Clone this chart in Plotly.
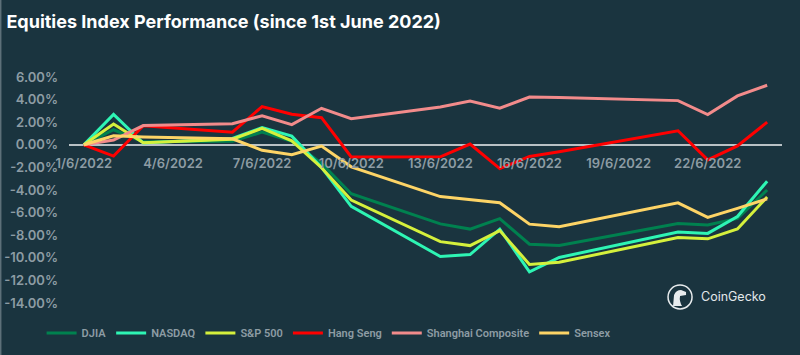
import plotly.graph_objects as go

dates = ["2022-06-01", "2022-06-02", "2022-06-03", "2022-06-06", "2022-06-07",
         "2022-06-08", "2022-06-09", "2022-06-10", "2022-06-13", "2022-06-14",
         "2022-06-15", "2022-06-16", "2022-06-17", "2022-06-21", "2022-06-22",
         "2022-06-23", "2022-06-24"]

djia = [0, 1.33, 0.26, 0.31, 1.12, 0.30, -1.65, -4.33, -7.00, -7.46, -6.53,
        -8.80, -8.91, -6.96, -7.10, -6.51, -4.00]
nasdaq = [0, 2.69, 0.16, 0.56, 1.52, 0.77, -2.00, -5.45, -9.88, -9.71, -7.46,
          -11.24, -9.97, -7.71, -7.84, -6.35, -3.22]
sp500 = [0, 1.84, 0.18, 0.49, 1.45, 0.35, -2.03, -4.89, -8.57, -8.92, -7.59,
         -10.59, -10.40, -8.20, -8.32, -7.45, -4.62]
hang_seng = [0, -1.00, 1.69, 1.11, 3.38, 2.70, 2.40, -1.07, -1.06, 0.07, -2.11,
             -1.03, -0.62, 1.24, -1.34, -0.10, 2.00]
shanghai = [0, 0.42, 1.70, 1.87, 2.57, 1.79, 3.23, 2.31, 3.35, 3.87, 3.24,
            4.23, 4.19, 3.91, 2.67, 4.33, 5.27]
sensex = [0, 0.79, 0.70, 0.53, -0.49, -0.88, -0.11, -1.95, -4.58, -4.85, -5.13,
          -7.02, -7.26, -5.14, -6.43, -5.63, -4.79]

series = [
    ("DJIA", djia, "#00814f"),
    ("NASDAQ", nasdaq, "#2ef5b4"),
    ("S&P 500", sp500, "#d5f03c"),
    ("Hang Seng", hang_seng, "#ff0000"),
    ("Shanghai Composite", shanghai, "#f28b8b"),
    ("Sensex", sensex, "#fdd466"),
]

ytick_vals = [6, 4, 2, 0, -2, -4, -6, -8, -10, -12, -14]
ytick_text = ["%.2f%%" % v for v in ytick_vals]

bg = "#1a343f"
label_col = "#8d9ca4"

fig = go.Figure()
for name, vals, col in series:
    fig.add_trace(go.Scatter(x=dates, y=vals, name=name, mode="lines",
                             line=dict(color=col, width=3)))

fig.update_layout(
    width=800, height=355,
    paper_bgcolor=bg, plot_bgcolor=bg,
    margin=dict(l=69, r=18, t=77, b=52, autoexpand=False),
    title=dict(text="<b>Equities Index Performance (since 1st June 2022)</b>",
               x=0.008, xanchor="left", y=0.938, yanchor="middle",
               font=dict(family="Inter", size=18, color="#ffffff")),
    showlegend=True,
    legend=dict(orientation="h", xref="container", x=0.052, xanchor="left",
                yref="container", y=0.062, yanchor="middle",
                font=dict(family="Roboto", size=11, color=label_col,
                          weight=600),
                bgcolor="rgba(0,0,0,0)", itemwidth=30, tracegroupgap=0),
    xaxis=dict(type="date", range=["2022-05-31 12:00", "2022-06-24 12:00"],
               tick0="2022-06-01", dtick=3 * 86400000, tickformat="%-d/%-m/%Y",
               showgrid=False, zeroline=False, showline=False, automargin=False,
               anchor="free", position=0.7, ticks="", ticklabelstandoff=9,
               tickfont=dict(family="Inter", size=13, color=label_col, weight=600)),
    yaxis=dict(range=[-14, 6], tickvals=ytick_vals, ticktext=ytick_text,
               showgrid=False, zeroline=True, zerolinecolor="#b9c1c5",
               zerolinewidth=2, ticks="", ticklabelstandoff=10, automargin=False,
               tickfont=dict(family="Inter", size=13, color=label_col, weight=600)),
)

# left edge border
fig.add_shape(type="line", xref="paper", yref="paper",
              x0=-68.3 / 713, x1=-68.3 / 713, y0=-0.3, y1=1.4,
              line=dict(color="#5d7079", width=1.5))

# CoinGecko mark
fig.add_shape(type="circle", xref="paper", yref="paper",
              xsizemode="pixel", ysizemode="pixel",
              xanchor=0.857, yanchor=0.027, x0=-12, x1=12, y0=-12, y1=12,
              line=dict(color="#e8ecee", width=1.5), fillcolor="rgba(0,0,0,0)")
fig.add_shape(type="path", xref="paper", yref="paper",
              xsizemode="pixel", ysizemode="pixel",
              xanchor=0.857, yanchor=0.027,
              path="M -7,-9 L -6,2 Q -4,7 1,7 L 6,5 L 6,2 L 0,1 Q -1,-4 2,-9 Z",
              line=dict(width=0), fillcolor="#e8ecee")
fig.add_annotation(text="CoinGecko", xref="paper", yref="paper",
                   x=0.8836, y=0.027, xanchor="left", yanchor="middle",
                   showarrow=False,
                   font=dict(family="Inter", size=12.5, color="#e3e8ea"))

fig.write_html("out.html",
               config={"displayModeBar": False},
               post_script="document.body.style.margin='0';"
                           "document.body.style.background='" + bg + "';")
